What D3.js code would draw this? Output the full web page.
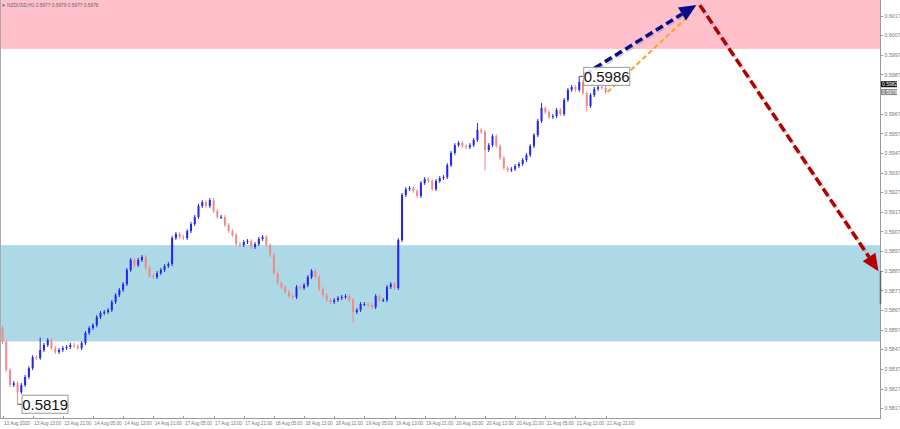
<!DOCTYPE html>
<html>
<head>
<meta charset="utf-8">
<script src="https://cdn.jsdelivr.net/npm/d3@7"></script>
<style>
  html, body { margin: 0; padding: 0; background: #fff; }
  svg { display: block; }
  .axis text { font-family: "Liberation Sans", Arial, sans-serif; font-size: 5.3px; fill: #777; }
  .x.axis text { font-size: 4.6px; }
  .axis path, .axis line { stroke: #999; shape-rendering: crispEdges; }
</style>
</head>
<body>
<svg id="chart" width="900" height="429"></svg>
<script>
const WIDTH = 900;
const HEIGHT = 429;
const PLOT_RIGHT = 880.5;
const PLOT_BOTTOM = 418.5;
const BULL_COLOR = "#2323f5";
const BEAR_COLOR = "#f08a8a";

// chart title
const title = "NZDUSD,H1  0.5977 0.5979 0.5977 0.5978";

// hourly closes, bar 0 = 13 Aug 05:00
const firstOpen = 0.58580;
const closes = [
  0.58507, 0.58364, 0.58288, 0.58298, 0.58252, 0.58288, 0.58329, 0.58374, 0.58430, 0.58425,
  0.58466, 0.58492, 0.58517, 0.58476, 0.58456, 0.58466, 0.58476, 0.58481, 0.58492, 0.58486,
  0.58476, 0.58502, 0.58553, 0.58578, 0.58593, 0.58634, 0.58655, 0.58660, 0.58670, 0.58711,
  0.58746, 0.58772, 0.58802, 0.58874, 0.58925, 0.58899, 0.58925, 0.58940, 0.58884, 0.58843,
  0.58838, 0.58858, 0.58874, 0.58894, 0.58904, 0.59037, 0.59057, 0.59042, 0.59037, 0.59072,
  0.59108, 0.59144, 0.59200, 0.59220, 0.59200, 0.59230, 0.59174, 0.59144, 0.59144, 0.59103,
  0.59072, 0.59052, 0.59006, 0.59001, 0.59016, 0.59021, 0.58991, 0.59006, 0.59032, 0.59042,
  0.59001, 0.58950, 0.58858, 0.58807, 0.58787, 0.58762, 0.58741, 0.58736, 0.58787, 0.58782,
  0.58797, 0.58838, 0.58869, 0.58838, 0.58777, 0.58746, 0.58721, 0.58711, 0.58721, 0.58731,
  0.58736, 0.58741, 0.58721, 0.58660, 0.58670, 0.58700, 0.58700, 0.58695, 0.58685, 0.58741,
  0.58721, 0.58721, 0.58787, 0.58802, 0.58782, 0.59026, 0.59256, 0.59286, 0.59291, 0.59276,
  0.59251, 0.59317, 0.59337, 0.59327, 0.59286, 0.59327, 0.59342, 0.59347, 0.59408, 0.59470,
  0.59510, 0.59521, 0.59505, 0.59500, 0.59510, 0.59536, 0.59587, 0.59577, 0.59485, 0.59510,
  0.59556, 0.59505, 0.59444, 0.59393, 0.59383, 0.59388, 0.59403, 0.59414, 0.59434, 0.59459,
  0.59505, 0.59561, 0.59633, 0.59699, 0.59678, 0.59653, 0.59658, 0.59689, 0.59668, 0.59740,
  0.59791, 0.59806, 0.59791, 0.59831, 0.59775, 0.59709, 0.59765, 0.59796, 0.59806, 0.59801,
  0.59780
];

// wick extremes that stand out on the picture (bar index -> price)
const highMarks = { 10: 0.58530, 55: 0.59240, 126: 0.59623, 143: 0.59724, 153: 0.59860 };
const lowMarks = { 4: 0.58190, 93: 0.58604, 128: 0.59380, 155: 0.59680 };
const wickSize = 0.00010;

// zones
const resistanceZone = [0.6000, 0.6030];
const supportZone = [0.5851, 0.5900];

// labelled extremes
const priceLabels = [
  { bar: 4, price: 0.5819, text: "0.5819" },
  { bar: 153, price: 0.5986, text: "0.5986" }
];

// forecast arrows: [bar, price] pairs
const arrowMain = [[154.4, 0.5987], [184.1, 0.60223]];
const arrowAlt = [[160.5, 0.5978], [181.4, 0.60157]];
const arrowDown = [[185.0, 0.60223], [232.4, 0.58868]];

// axis ticks (0.5977 sits under the last-price tag)
const priceTicks = [
  0.6017, 0.6007, 0.5997, 0.5987, 0.5967, 0.5957, 0.5947, 0.5937, 0.5927, 0.5917,
  0.5907, 0.5897, 0.5887, 0.5877, 0.5867, 0.5857, 0.5847, 0.5837, 0.5827, 0.5817
];
const timeTickBars = d3.range(0, 21).map(i => i * 8);
const timeLabels = [
  "13 Aug 2020", "13 Aug 13:00", "13 Aug 21:00", "14 Aug 05:00", "14 Aug 13:00",
  "14 Aug 21:00", "17 Aug 05:00", "17 Aug 13:00", "17 Aug 21:00", "18 Aug 05:00",
  "18 Aug 13:00", "18 Aug 21:00", "19 Aug 05:00", "19 Aug 13:00", "19 Aug 21:00",
  "20 Aug 05:00", "20 Aug 13:00", "20 Aug 21:00", "21 Aug 05:00", "21 Aug 13:00",
  "21 Aug 21:00"
];
const bidPrice = 0.5982;
const lastPrice = 0.5978;

const svg = d3.select("#chart");

const x = d3.scaleLinear().domain([0, 232]).range([2.5, 877]);
const y = d3.scaleLinear().domain([0.58120, 0.60249]).range([418, 0]);

// candles from closes
const candles = closes.map((c, i) => {
  const o = i === 0 ? firstOpen : closes[i - 1];
  const hi = highMarks[i] !== undefined ? highMarks[i] : Math.max(o, c) + wickSize;
  const lo = lowMarks[i] !== undefined ? lowMarks[i] : Math.min(o, c) - wickSize;
  return { i: i, o: o, c: c, h: hi, l: lo };
});

// zones
svg.append("rect")
  .attr("x", 0).attr("width", PLOT_RIGHT)
  .attr("y", y(resistanceZone[1])).attr("height", y(resistanceZone[0]) - y(resistanceZone[1]))
  .attr("fill", "#ffc0cb");
svg.append("rect")
  .attr("x", 0).attr("width", PLOT_RIGHT)
  .attr("y", y(supportZone[1])).attr("height", y(supportZone[0]) - y(supportZone[1]))
  .attr("fill", "#add8e6");

// title
svg.append("path").attr("d", "M2,4.5 L5,4.5 L3.5,7 Z").attr("fill", "#666");
svg.append("text")
  .attr("x", 7).attr("y", 7)
  .attr("font-family", "Liberation Sans, Arial, sans-serif")
  .attr("font-size", "4.8px")
  .attr("fill", "#666")
  .text(title);

// candles
const g = svg.append("g");
g.selectAll(".wick")
  .data(candles)
  .enter().append("line")
  .attr("class", "wick")
  .attr("x1", d => x(d.i)).attr("x2", d => x(d.i))
  .attr("y1", d => y(d.h)).attr("y2", d => y(d.l))
  .attr("stroke", d => d.c >= d.o ? BULL_COLOR : BEAR_COLOR)
  .attr("stroke-width", 1);
g.selectAll(".body")
  .data(candles)
  .enter().append("rect")
  .attr("class", "body")
  .attr("x", d => x(d.i) - 1)
  .attr("width", 2)
  .attr("y", d => y(Math.max(d.o, d.c)))
  .attr("height", d => Math.max(1, Math.abs(y(d.o) - y(d.c))))
  .attr("fill", d => d.c >= d.o ? BULL_COLOR : BEAR_COLOR);

// arrows
function drawArrow(pts, color, width, dash, head, shadow) {
  const x1 = x(pts[0][0]), y1 = y(pts[0][1]);
  const x2 = x(pts[1][0]), y2 = y(pts[1][1]);
  const ang = Math.atan2(y2 - y1, x2 - x1);
  const bx = x2 - head * Math.cos(ang), by = y2 - head * Math.sin(ang);
  const hw = head * 0.45;
  const poly = [
    [x2, y2],
    [bx + hw * Math.sin(ang), by - hw * Math.cos(ang)],
    [bx - hw * Math.sin(ang), by + hw * Math.cos(ang)]
  ];
  if (shadow) {
    svg.append("line")
      .attr("x1", x1 + 1.5).attr("y1", y1 + 1.5)
      .attr("x2", bx + 1.5).attr("y2", by + 1.5)
      .attr("stroke", "#999").attr("stroke-opacity", 0.45)
      .attr("stroke-width", width).attr("stroke-dasharray", dash);
  }
  svg.append("line")
    .attr("x1", x1).attr("y1", y1)
    .attr("x2", head > 0 ? bx : x2).attr("y2", head > 0 ? by : y2)
    .attr("stroke", color).attr("stroke-width", width)
    .attr("stroke-dasharray", dash);
  if (head > 0) {
    svg.append("polygon")
      .attr("points", poly.map(p => p.join(",")).join(" "))
      .attr("fill", color);
  }
}
drawArrow(arrowAlt, "#ffa21a", 2, "5,3", 0, false);
drawArrow(arrowMain, "#0a0a8c", 3.5, "8,4", 17, true);
drawArrow(arrowDown, "#b30000", 3.5, "9,4", 17, true);

// price labels
priceLabels.forEach(p => {
  const bx = x(p.bar) + 4.5;
  const by = y(p.price);
  svg.append("line")
    .attr("x1", x(p.bar)).attr("x2", bx)
    .attr("y1", by).attr("y2", by)
    .attr("stroke", "#555").attr("stroke-width", 1);
  svg.append("rect")
    .attr("x", bx).attr("y", by - 9)
    .attr("width", 46).attr("height", 18)
    .attr("fill", "#fff").attr("fill-opacity", 0.85)
    .attr("stroke", "#999").attr("stroke-width", 1);
  svg.append("text")
    .attr("x", bx + 23).attr("y", by + 5.5)
    .attr("text-anchor", "middle")
    .attr("font-family", "Liberation Sans, Arial, sans-serif")
    .attr("font-size", "15px")
    .attr("fill", "#111")
    .text(p.text);
});

// left border
svg.append("line")
  .attr("x1", 0.5).attr("x2", 0.5).attr("y1", 0).attr("y2", PLOT_BOTTOM)
  .attr("stroke", "#aaa");

// axes
const yAxis = d3.axisRight(y)
  .tickValues(priceTicks)
  .tickSize(2.5)
  .tickPadding(1.5)
  .tickFormat(d3.format(".4f"));
svg.append("g")
  .attr("class", "y axis")
  .attr("transform", "translate(" + PLOT_RIGHT + ",0)")
  .call(yAxis)
  .call(s => s.select(".domain").attr("d", "M0,0V" + PLOT_BOTTOM));

const xAxis = d3.axisBottom(x)
  .tickValues(timeTickBars)
  .tickSize(2.5)
  .tickFormat((d, i) => timeLabels[i]);
svg.append("g")
  .attr("class", "x axis")
  .attr("transform", "translate(0," + PLOT_BOTTOM + ")")
  .call(xAxis)
  .call(s => s.select(".domain").attr("d", "M0,0H" + PLOT_RIGHT))
  .call(s => s.selectAll(".tick line").attr("y1", -2.5).attr("y2", 0))
  .call(s => s.selectAll(".tick text").attr("text-anchor", "start").attr("dx", 1).attr("y", 3));

// shift marker on the price scale
svg.append("line")
  .attr("x1", PLOT_RIGHT).attr("x2", PLOT_RIGHT)
  .attr("y1", 271).attr("y2", 304)
  .attr("stroke", "#666").attr("stroke-width", 1.5);

// bid / last price tags on the price scale
[[bidPrice, "#111"], [lastPrice, "#8a8a8a"]].forEach(t => {
  svg.append("rect")
    .attr("x", PLOT_RIGHT + 0.5).attr("y", y(t[0]) - 3)
    .attr("width", 16).attr("height", 6)
    .attr("fill", t[1]);
  svg.append("text")
    .attr("x", PLOT_RIGHT + 1.5).attr("y", y(t[0]) + 1.8)
    .attr("font-family", "Liberation Sans, Arial, sans-serif")
    .attr("font-size", "5px")
    .attr("fill", "#fff")
    .text(t[0].toFixed(4));
});
</script>
</body>
</html>
